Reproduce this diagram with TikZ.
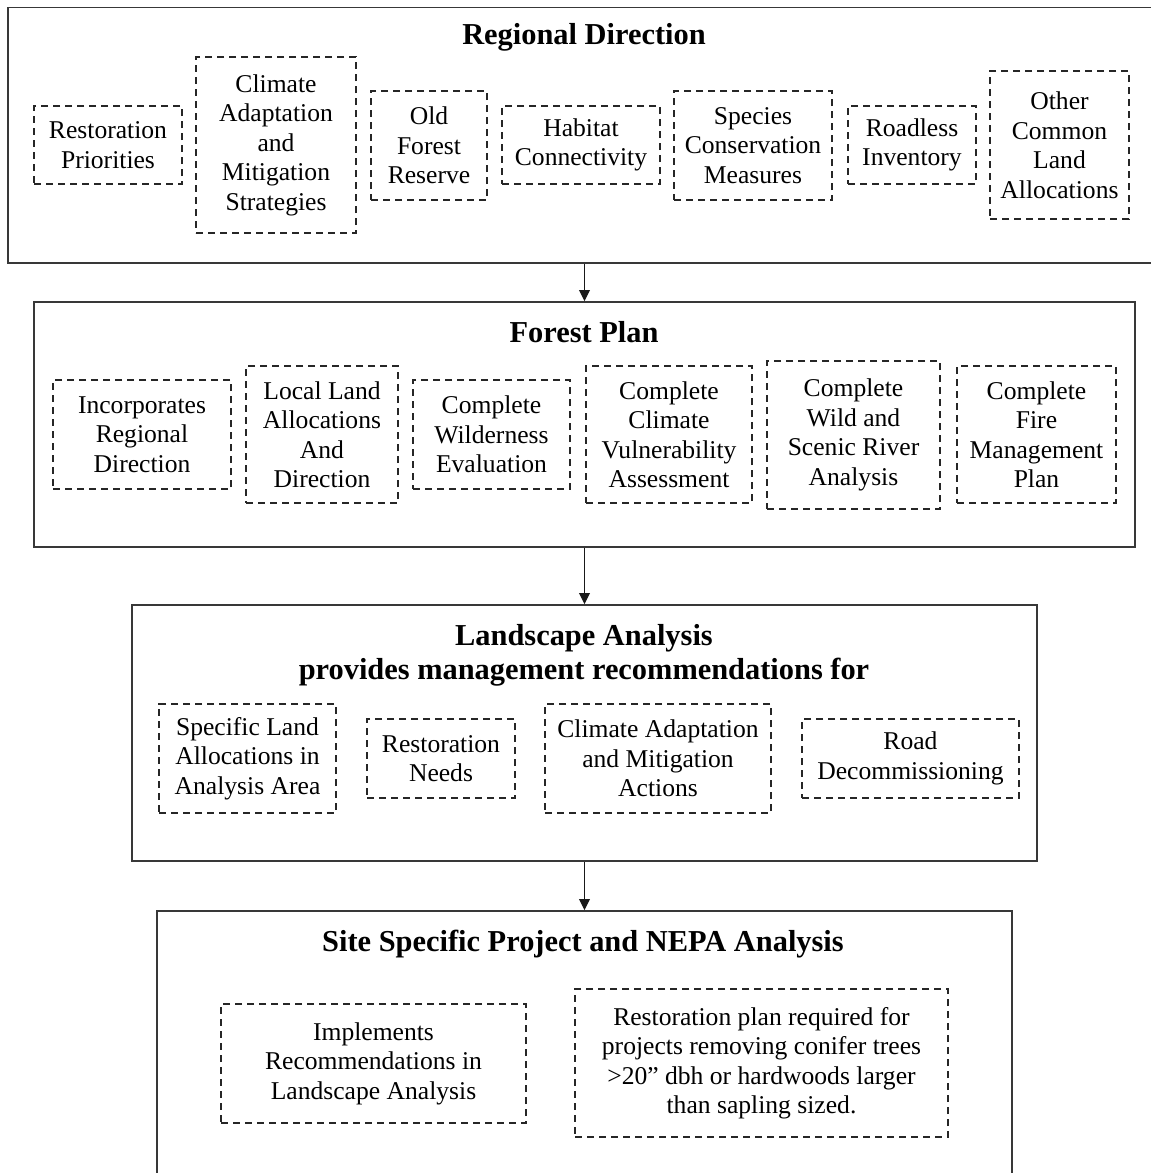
\documentclass[tikz,border=0pt]{standalone}
\usepackage{fontspec}
\setmainfont{Liberation Serif}
\usetikzlibrary{arrows.meta}
\tikzset{
  outerbox/.style={draw=black!78, line width=0.75pt, inner sep=0pt, anchor=center},
  innerbox/.style={draw=black!85, line width=0.7pt, dash pattern=on 3.6pt off 2.4pt, inner sep=0pt, align=center,
    anchor=center, font=\fontsize{12.8pt}{14.75pt}\selectfont},
  titletext/.style={align=center, font=\bfseries\fontsize{15.2pt}{17pt}\selectfont},
  arr/.style={draw=black!90, line width=0.65pt, -{Triangle[length=5.6pt,width=5.4pt]}}
}
\begin{document}
\begin{tikzpicture}[x=0.5pt,y=-0.5pt]
\useasboundingbox (0,0) rectangle (1151,1173);
\clip (0,0) rectangle (1151,1173);
\fill[white] (0,0) rectangle (1151,1173);
% outer boxes
\node[outerbox, minimum width=576.5pt, minimum height=127.75pt] (b1) at (584.5,135.25) {};
\node[outerbox, minimum width=550.5pt, minimum height=122.5pt] (b2) at (584.5,424.5) {};
\node[outerbox, minimum width=452.5pt, minimum height=128pt] (b3) at (584.5,733) {};
\node[outerbox, minimum width=427.5pt, minimum height=149.5pt] (b4) at (584.5,1060.5) {};
% titles
\node[titletext] (t1) at (584,37) {Regional Direction};
\node[titletext] (t2) at (584,332) {Forest Plan};
\node[titletext] (t3) at (584,655) {Landscape Analysis\\provides management recommendations for};
\node[titletext] (t4) at (583,944) {Site Specific Project and NEPA Analysis};
% row 1
\node[innerbox, minimum width=74pt, minimum height=39pt] (rp) at (108,145) {Restoration\\Priorities};
\node[innerbox, minimum width=80pt, minimum height=88pt] (cams) at (276,145) {Climate\\Adaptation\\and\\Mitigation\\Strategies};
\node[innerbox, minimum width=58pt, minimum height=54.5pt] (ofr) at (429,145.5) {Old\\Forest\\Reserve};
\node[innerbox, minimum width=79pt, minimum height=39pt] (hc) at (581,145) {Habitat\\Connectivity};
\node[innerbox, minimum width=79pt, minimum height=54.5pt] (scm) at (753,145.5) {Species\\Conservation\\Measures};
\node[innerbox, minimum width=64pt, minimum height=39pt] (ri) at (912,145) {Roadless\\Inventory};
\node[innerbox, minimum width=69.5pt, minimum height=74pt] (ocla) at (1059.5,145) {Other\\Common\\Land\\Allocations};
% row 2
\node[innerbox, minimum width=89pt, minimum height=54.5pt] (ird) at (142,434.5) {Incorporates\\Regional\\Direction};
\node[innerbox, minimum width=76pt, minimum height=68.5pt] (lla) at (322,434.5) {Local Land\\Allocations\\And\\Direction};
\node[innerbox, minimum width=78.5pt, minimum height=54.5pt] (cwe) at (491.5,434.5) {Complete\\Wilderness\\Evaluation};
\node[innerbox, minimum width=83pt, minimum height=68.5pt] (ccva) at (669,434.5) {Complete\\Climate\\Vulnerability\\Assessment};
\node[innerbox, minimum width=86.5pt, minimum height=74pt] (cwsr) at (853.5,435) {Complete\\Wild and\\Scenic River\\Analysis};
\node[innerbox, minimum width=79.5pt, minimum height=68.5pt] (cfmp) at (1036.5,434.5) {Complete\\Fire\\Management\\Plan};
% row 3
\node[innerbox, minimum width=88.5pt, minimum height=54.5pt] (sla) at (247.5,758.5) {Specific Land\\Allocations in\\Analysis Area};
\node[innerbox, minimum width=74pt, minimum height=39.5pt] (rn) at (441,758.5) {Restoration\\Needs};
\node[innerbox, minimum width=113pt, minimum height=54.5pt] (caa) at (658,758.5) {Climate Adaptation\\and Mitigation\\Actions};
\node[innerbox, minimum width=108.5pt, minimum height=39.5pt] (rd) at (910.5,758.5) {Road\\Decommissioning};
% row 4
\node[innerbox, minimum width=152.5pt, minimum height=59.5pt] (irla) at (373.5,1063.5) {Implements\\Recommendations in\\Landscape Analysis};
\node[innerbox, minimum width=186.5pt, minimum height=74pt] (rpr) at (761.5,1063) {Restoration plan required for\\projects removing conifer trees\\>20” dbh or hardwoods larger\\than sapling sized.};
% connectors
\draw[arr] (b1.south) -- (b2.north);
\draw[arr] (b2.south) -- (b3.north);
\draw[arr] (b3.south) -- (b4.north);
\end{tikzpicture}
\end{document}
